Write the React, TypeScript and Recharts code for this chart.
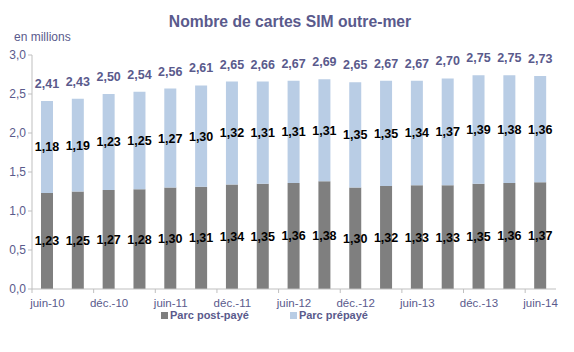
import { BarChart, Bar, XAxis, YAxis, Legend, LabelList } from 'recharts';

const categories = [
    'juin-10', 'sept.-10', 'déc.-10', 'mars-11', 'juin-11', 'sept.-11', 'déc.-11', 'mars-12', 'juin-12',
    'sept.-12', 'déc.-12', 'mars-13', 'juin-13', 'sept.-13', 'déc.-13', 'mars-14', 'juin-14',
];
const postPaye = [1.23, 1.25, 1.27, 1.28, 1.30, 1.31, 1.34, 1.35, 1.36, 1.38, 1.30, 1.32, 1.33, 1.33, 1.35, 1.36, 1.37];
const prePaye = [1.18, 1.19, 1.23, 1.25, 1.27, 1.30, 1.32, 1.31, 1.31, 1.31, 1.35, 1.35, 1.34, 1.37, 1.39, 1.38, 1.36];
const totals = [2.41, 2.43, 2.50, 2.54, 2.56, 2.61, 2.65, 2.66, 2.67, 2.69, 2.65, 2.67, 2.67, 2.70, 2.75, 2.75, 2.73];
const yTicks = [0, 0.5, 1, 1.5, 2, 2.5, 3];

const data = categories.map((c, i) => ({
    name: c,
    post: postPaye[i],
    pre: prePaye[i],
    total: totals[i],
}));

const FONT = '"Liberation Sans", Arial, sans-serif';
const BLUE_TEXT = '#5a5a8c';
const fmt = (v: number) => v.toFixed(2).replace('.', ',');

// x tick: label under the category, small tick mark on the boundary before it
const XTick = (props: any) => {
    const { x, y, payload } = props;
    const half = 524 / categories.length / 2;
    return (
        <g>
            <line x1={x - half} x2={x - half} y1={y - 9} y2={y - 5} stroke="#bfbfbf" />
            <text x={x} y={y} dy={9} textAnchor="middle" fill={BLUE_TEXT} fontSize={11.5} fontFamily={FONT}>
                {payload.value}
            </text>
        </g>
    );
};

const LegendContent = () => (
    <div style={{ display: 'flex', paddingLeft: 161, marginTop: -5, gap: 41, fontFamily: FONT, fontSize: 11, fontWeight: 'bold', color: BLUE_TEXT }}>
        <span style={{ display: 'flex', alignItems: 'center' }}>
            <span style={{ width: 7, height: 7, background: '#7f7f7f', marginRight: 2 }} />
            Parc post-payé
        </span>
        <span style={{ display: 'flex', alignItems: 'center' }}>
            <span style={{ width: 7, height: 7, background: '#b9cde5', marginRight: 2 }} />
            Parc prépayé
        </span>
    </div>
);

const App = () => {
    return (
        <div style={{ position: 'absolute', left: 0, top: 0, width: 574, height: 352, background: '#fff', fontFamily: FONT }}>
            <div style={{ position: 'absolute', left: 0, width: 580, top: 13, textAlign: 'center', fontSize: 15.7, fontWeight: 'bold', color: BLUE_TEXT }}>
                Nombre de cartes SIM outre-mer
            </div>
            <div style={{ position: 'absolute', left: 14, top: 30, fontSize: 12, color: BLUE_TEXT }}>
                en millions
            </div>
            <BarChart
                width={574}
                height={352}
                data={data}
                margin={{ top: 55, right: 18, left: 0, bottom: 5 }}
                barSize={12}
            >
                <XAxis
                    dataKey="name"
                    interval={1}
                    height={25}
                    tick={<XTick />}
                    tickLine={false}
                    tickSize={6}
                    axisLine={{ stroke: '#bfbfbf' }}
                    tickMargin={3}
                />
                <YAxis
                    domain={[0, 3]}
                    ticks={yTicks}
                    width={32}
                    tickFormatter={(v: number) => v.toFixed(1).replace('.', ',')}
                    tick={{ fill: BLUE_TEXT, fontSize: 12, fontFamily: FONT }}
                    tickLine={{ stroke: '#bfbfbf' }}
                    tickSize={4}
                    tickMargin={2}
                    axisLine={{ stroke: '#bfbfbf' }}
                />
                <Legend verticalAlign="bottom" height={33} content={<LegendContent />} />
                <Bar dataKey="post" stackId="a" fill="#7f7f7f" isAnimationActive={false}>
                    <LabelList dataKey="post" position="center" formatter={(v: any) => fmt(Number(v))} fill="#000" fontSize={12.5} fontWeight="bold" fontFamily={FONT} />
                </Bar>
                <Bar dataKey="pre" stackId="a" fill="#b9cde5" isAnimationActive={false}>
                    <LabelList dataKey="pre" position="center" formatter={(v: any) => fmt(Number(v))} fill="#000" fontSize={12.5} fontWeight="bold" fontFamily={FONT} />
                    <LabelList dataKey="total" position="top" offset={13} formatter={(v: any) => fmt(Number(v))} fill={BLUE_TEXT} fontSize={12.5} fontWeight="bold" fontFamily={FONT} />
                </Bar>
            </BarChart>
        </div>
    );
};

export default App;
